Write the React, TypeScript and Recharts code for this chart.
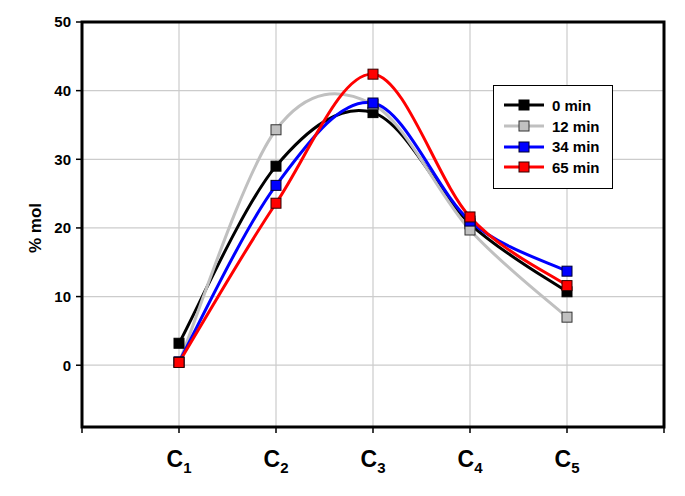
import { LineChart, Line, XAxis, YAxis, CartesianGrid, ReferenceArea } from 'recharts';

const categories = ['1', '2', '3', '4', '5'];
const min0 = [3.2, 29.0, 36.8, 20.6, 10.7];
const min12 = [0.4, 34.3, 38.0, 19.7, 7.0];
const min34 = [0.5, 26.2, 38.2, 21.0, 13.7];
const min65 = [0.4, 23.6, 42.4, 21.6, 11.6];
const yTicks = [0, 10, 20, 30, 40, 50];
const xTicks = [0, 1, 2, 3, 4, 5, 6];

const series = [
  { key: 'min0', name: '0 min', color: '#000000', edge: '#000000' },
  { key: 'min12', name: '12 min', color: '#c0c0c0', edge: '#333333' },
  { key: 'min34', name: '34 min', color: '#0000ff', edge: '#000033' },
  { key: 'min65', name: '65 min', color: '#ff0000', edge: '#330000' },
];

const data = categories.map((c, i) => ({
  x: i + 1,
  cat: c,
  min0: min0[i],
  min12: min12[i],
  min34: min34[i],
  min65: min65[i],
}));

const FONT = 'Liberation Sans, Arial';

// excel-ish smoothing: catmull-rom through the points
function smoothCurve(context: any) {
  let pts: number[][] = [];
  return {
    areaStart() {},
    areaEnd() {},
    lineStart() { pts = []; },
    lineEnd() {
      if (!pts.length) return;
      context.moveTo(pts[0][0], pts[0][1]);
      for (let i = 0; i < pts.length - 1; i++) {
        const p0 = pts[i - 1] || pts[i];
        const p1 = pts[i];
        const p2 = pts[i + 1];
        const p3 = pts[i + 2] || p2;
        context.bezierCurveTo(
          p1[0] + (p2[0] - p0[0]) / 6, p1[1] + (p2[1] - p0[1]) / 6,
          p2[0] - (p3[0] - p1[0]) / 6, p2[1] - (p3[1] - p1[1]) / 6,
          p2[0], p2[1]
        );
      }
    },
    point(x: number, y: number) { pts.push([+x, +y]); },
  };
}

const SquareDot = (props: any) => {
  const { cx, cy, fill, stroke } = props;
  if (cx == null || cy == null) return null;
  return <rect x={cx - 5} y={cy - 5} width={10} height={10} fill={fill} stroke={stroke} strokeWidth={1} />;
};

const CatTick = (props: any) => {
  const { x, y, payload } = props;
  const idx = payload.value - 1;
  if (idx < 0 || idx >= categories.length) return null;
  return (
    <text x={x} y={y + 32} textAnchor="middle" fontFamily={FONT} fontWeight="bold" fill="#000">
      <tspan fontSize={23}>C</tspan>
      <tspan fontSize={15} dy={6}>{categories[idx]}</tspan>
    </text>
  );
};

const LegendBox = () => (
  <div style={{ position: 'absolute', left: 485, top: 77, width: 120, height: 104, border: '1px solid #000', background: '#fff', fontFamily: FONT, fontWeight: 'bold', fontSize: 15, paddingTop: 9, boxSizing: 'border-box' }}>
    {series.map(s => (
      <div key={s.key} style={{ display: 'flex', alignItems: 'center', height: 20.7 }}>
        <svg width={56} height={14} style={{ marginLeft: 2 }}>
          <line x1={8} y1={7} x2={48} y2={7} stroke={s.color} strokeWidth={3} />
          <rect x={23} y={2} width={10} height={10} fill={s.color} stroke={s.edge} strokeWidth={1} />
        </svg>
        <span>{s.name}</span>
      </div>
    ))}
  </div>
);

export default function App() {
  return (
    <div style={{ position: 'relative', width: 670, height: 480 }}>
      <LineChart width={670} height={480} data={data} margin={{ top: 14, right: 14, left: 0, bottom: 0 }}>
        <CartesianGrid stroke="#cccccc" strokeWidth={1.2} />
        <XAxis
          dataKey="x"
          type="number"
          domain={[0, 6]}
          ticks={xTicks}
          axisLine={false}
          tickLine={{ stroke: '#000', strokeWidth: 1.5 }}
          tickSize={6}
          tick={<CatTick />}
          height={61}
        />
        <YAxis
          type="number"
          domain={[-9, 50]}
          ticks={yTicks}
          axisLine={false}
          tickLine={{ stroke: '#000', strokeWidth: 1.5 }}
          tickSize={6}
          tickMargin={5}
          width={74}
          tick={{ fill: '#000', fontSize: 15, fontWeight: 'bold', fontFamily: FONT }}
        />
        <ReferenceArea x1={0} x2={6} y1={-9} y2={50} fill="none" stroke="#000" strokeWidth={3} />
        {series.map(s => (
          <Line
            key={s.key}
            dataKey={s.key}
            name={s.name}
            type={smoothCurve as any}
            stroke={s.color}
            strokeWidth={3}
            dot={<SquareDot fill={s.color} stroke={s.edge} />}
            activeDot={false}
            isAnimationActive={false}
          />
        ))}
      </LineChart>
      <div style={{ position: 'absolute', left: 27, top: 220, transform: 'translate(-50%, -50%) rotate(-90deg)', fontFamily: FONT, fontWeight: 'bold', fontSize: 17, whiteSpace: 'nowrap', lineHeight: 1 }}>
        % mol
      </div>
      <LegendBox />
    </div>
  );
}
